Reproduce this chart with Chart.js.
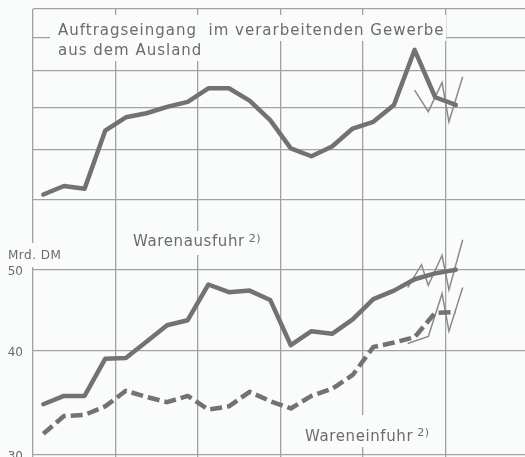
<!DOCTYPE html>
<html lang="de">
<head>
<meta charset="utf-8">
<title>Auftragseingang, Warenausfuhr und Wareneinfuhr</title>
<script src="https://cdn.jsdelivr.net/npm/chart.js@4.4.1/dist/chart.umd.min.js"></script>
<style>
  html, body { margin: 0; padding: 0; background: #fafbfb; overflow: hidden; }
  body { width: 525px; height: 457px; }
  canvas { display: block; }
</style>
</head>
<body>
<canvas id="chart" width="540" height="470"></canvas>
<script>
// Quartalswerte, 21 Quartale ab dem 1. Vj. des ersten Jahres
const auftragQuartal = [5.10, 5.26, 5.21, 6.43, 6.75, 6.85, 7.01, 7.14, 7.50, 7.50, 7.17,
  6.68, 6.03, 5.86, 6.07, 6.48, 6.64, 7.06, 8.62, 7.26, 7.06]
const ausfuhrQuartal = [34.5, 35.3, 35.3, 39.1, 39.2, 41.0, 42.9, 43.5, 48.0, 47.0, 47.2,
  46.0, 40.6, 42.2, 41.9, 43.6, 46.1, 47.2, 48.7, 49.5, 50.0]
const einfuhrQuartal = [31.8, 33.4, 33.5, 34.3, 35.8, 35.2, 34.7, 35.3, 34.0, 34.3, 35.7,
  34.8, 34.1, 35.3, 36.0, 37.4, 40.4, 40.9, 41.5, 44.4, 44.5]

// Monatswerte am aktuellen Rand (Monat gezaehlt ab Januar des ersten Jahres)
const auftragMonate = [55, 57, 59, 60, 62]
const auftragMonat = [7.45, 6.89, 7.66, 6.64, 7.82]
const ausfuhrMonate = [54, 56, 57, 59, 60, 62]
const ausfuhrMonat = [47.6, 50.7, 47.9, 52.0, 47.3, 54.3]
const einfuhrMonate = [54, 57, 59, 60, 62]
const einfuhrMonat = [40.8, 41.6, 46.8, 42.2, 47.6]

// Achsen: Jahresgrenzen in Quartalen, Gitter der beiden log. Skalen
const jahresGrenzen = [0, 4, 8, 12, 16, 20, 24]
const auftragGitter = [5, 6, 7, 8, 9, 10]
const handelGitter = [30, 40, 50]

const bg = '#fafbfb'
const ink = '#6b6b6b'
const gridColor = '#a2a2a2'
const lineColor = '#727272'
const thinColor = '#8a8a8a'

const quartal = (values) => values.map((y, i) => ({ x: i + 0.5, y }))
const monat = (months, values) => months.map((m, i) => ({ x: (m + 0.5) / 3, y: values[i] }))

function write(ctx, str, x, y, size, spacing) {
  ctx.font = size + 'px "DejaVu Sans"'
  ctx.letterSpacing = spacing + 'px'
  ctx.fillText(str, x, y)
  let w = ctx.measureText(str).width
  ctx.letterSpacing = '0px'
  return w
}

const beschriftung = {
  id: 'beschriftung',
  beforeDraw(chart) {
    let { ctx, width, height } = chart
    ctx.save()
    ctx.fillStyle = bg
    ctx.fillRect(0, 0, width, height)
    ctx.restore()
  },
  beforeDatasetsDraw(chart) {
    let { ctx } = chart
    ctx.save()
    // Aussparungen im Gitter hinter den Texten
    ctx.fillStyle = bg
    ctx.fillRect(50, 15, 396, 26)
    ctx.fillRect(50, 41, 166, 20)
    ctx.fillRect(128, 231, 152, 24)
    ctx.fillRect(299, 415, 141, 32)
    ctx.fillRect(2, 243, 64, 19)
    ctx.fillRect(29, 243, 8, 24)

    ctx.fillStyle = ink
    ctx.textBaseline = 'alphabetic'
    write(ctx, 'Auftragseingang  im verarbeitenden Gewerbe', 58, 35, 15, 1.0)
    write(ctx, 'aus dem Ausland', 58, 55, 15, 1.0)
    let w = write(ctx, 'Warenausfuhr', 133, 246, 15, 0.6)
    write(ctx, '2)', 133 + w + 4, 242, 11, 0.5)
    w = write(ctx, 'Wareneinfuhr', 305, 441, 15, 0.6)
    write(ctx, '2)', 305 + w + 4, 436, 11, 0.5)
    write(ctx, 'Mrd. DM', 8, 259, 12, 0.5)
    ctx.restore()
  }
}

const thick = { borderColor: lineColor, borderWidth: 4.5, pointRadius: 0, tension: 0,
  borderJoinStyle: 'round', borderCapStyle: 'round', order: 1 }
const thin = { borderColor: thinColor, borderWidth: 1.5, pointRadius: 0, tension: 0, order: 2 }

const gridFor = (ticks) => (scale) => { scale.ticks = ticks.map((value) => ({ value })) }

// keine Ueberstaende der Achsenbeschriftung in die Raender
function noPadding(scale) {
  scale.paddingTop = 0
  scale.paddingBottom = 0
  scale.paddingLeft = 0
  scale.paddingRight = 0
}
const fitX = (s) => { s.height = 0; noPadding(s) }
const fitY = (s) => { s.width = 33; noPadding(s) }

new Chart(document.getElementById('chart'), {
  type: 'line',
  data: {
    datasets: [
      { ...thick, label: 'Auftragseingang', data: quartal(auftragQuartal), yAxisID: 'yAuftrag' },
      { ...thick, label: 'Warenausfuhr', data: quartal(ausfuhrQuartal), yAxisID: 'yHandel' },
      { ...thick, label: 'Wareneinfuhr', data: quartal(einfuhrQuartal), yAxisID: 'yHandel',
        borderDash: [12, 5], borderCapStyle: 'butt' },
      { ...thin, label: 'Auftragseingang monatlich', data: monat(auftragMonate, auftragMonat), yAxisID: 'yAuftrag' },
      { ...thin, label: 'Warenausfuhr monatlich', data: monat(ausfuhrMonate, ausfuhrMonat), yAxisID: 'yHandel' },
      { ...thin, label: 'Wareneinfuhr monatlich', data: monat(einfuhrMonate, einfuhrMonat), yAxisID: 'yHandel' }
    ]
  },
  options: {
    responsive: false,
    animation: false,
    devicePixelRatio: 1,
    layout: { autoPadding: false, padding: { left: 0, top: 9, right: 12, bottom: 9 } },
    plugins: { legend: { display: false }, tooltip: { enabled: false } },
    scales: {
      x: {
        type: 'linear', min: 0, max: 24,
        afterBuildTicks: gridFor(jahresGrenzen),
        afterFit: fitX,
        ticks: { display: false },
        grid: { color: gridColor, lineWidth: 1.3, drawTicks: false },
        border: { display: false }
      },
      // linke Achsen liegen uebereinander, die zuerst genannte unten
      yHandel: {
        type: 'logarithmic', position: 'left', stack: 'y', stackWeight: 261,
        min: 29.5, max: 60.6,
        afterBuildTicks: gridFor(handelGitter),
        afterFit: fitY,
        ticks: {
          color: ink, padding: 10, labelOffset: 2,
          font: { family: 'DejaVu Sans', size: 12 },
          callback: (v) => String(v)
        },
        grid: { color: gridColor, lineWidth: 1.3, drawTicks: false },
        border: { display: false }
      },
      yAuftrag: {
        type: 'logarithmic', position: 'left', stack: 'y', stackWeight: 191,
        min: 5, max: 10,
        afterBuildTicks: gridFor(auftragGitter),
        afterFit: fitY,
        ticks: { display: false },
        grid: { color: gridColor, lineWidth: 1.3, drawTicks: false },
        border: { display: false }
      }
    }
  },
  plugins: [beschriftung]
})
</script>
</body>
</html>
